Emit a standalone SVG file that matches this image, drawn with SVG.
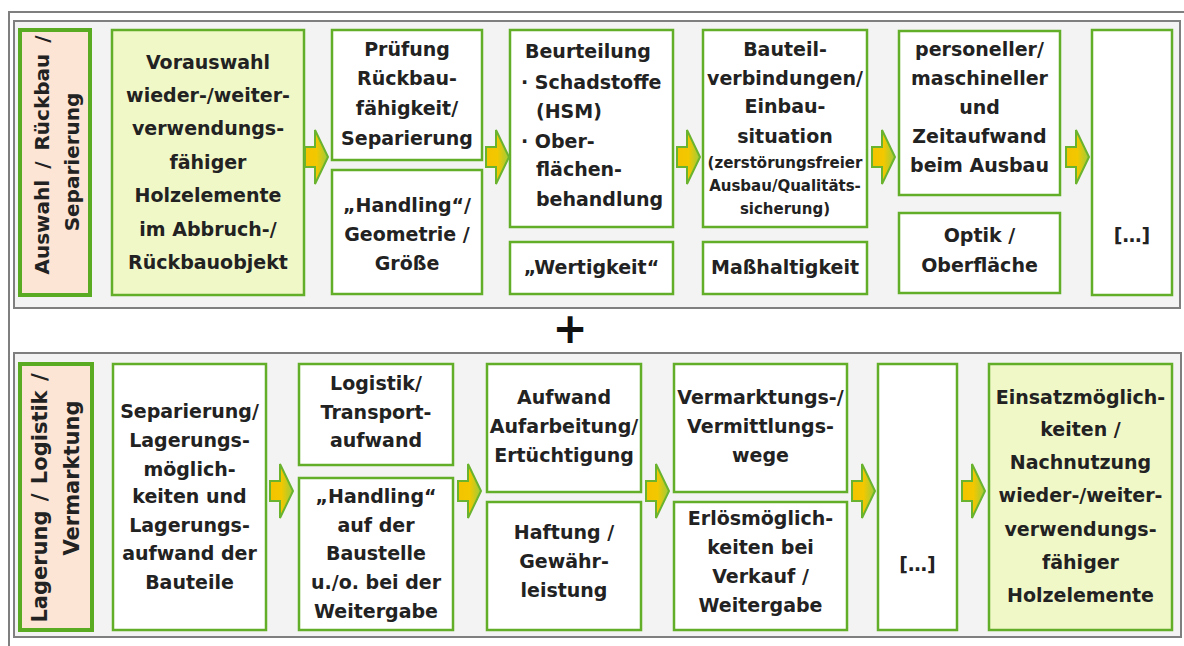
<svg xmlns="http://www.w3.org/2000/svg" width="1184" height="646" viewBox="0 0 1184 646">
<style>
.panel{fill:#f3f3f3;stroke:#7f7f7f;stroke-width:2}
.frame{fill:none;stroke:#7f7f7f;stroke-width:2}
.box{fill:#ffffff;stroke:#62ae28;stroke-width:2.5}
.hl{fill:#f1f8c8;stroke:#62ae28;stroke-width:2.5}
.lab{fill:#fce5d5;stroke:#5aab22;stroke-width:4}
text{font-family:"DejaVu Sans",Verdana,sans-serif;font-weight:bold;fill:#222222}
.t{font-size:19px;text-anchor:middle}
.l{font-size:19px;text-anchor:start}
.s{font-size:15px;text-anchor:middle}
.v{font-size:20px;text-anchor:middle}
.v2{font-size:21px;text-anchor:middle}
.arr{fill:url(#ag);stroke:#6ab32e;stroke-width:2;stroke-linejoin:miter}
</style>
<defs>
<linearGradient id="ag" x1="0" y1="0" x2="1" y2="0">
<stop offset="0" stop-color="#f3c300"/>
<stop offset="0.5" stop-color="#f3c800"/>
<stop offset="1" stop-color="#9ccc3c"/>
</linearGradient>
<path id="arrow" class="arr" d="M0,-10 L10,-10 L10,-27 L23,0 L10,27 L10,10 L0,10 Z"/>
</defs>
<rect x="0" y="0" width="1184" height="646" fill="#ffffff"/>
<path class="frame" d="M9,646 L9,12 L1184,12"/>
<g id="panel-top">
<rect class="panel" x="14" y="21" width="1166" height="287"/>
</g>
<g id="panel-bottom">
<rect class="panel" x="14" y="353" width="1167" height="284"/>
</g>
<g id="plus"><text x="570" y="343" style="font-size:42px;text-anchor:middle;fill:#111">+</text></g>

<g id="label-top">
<rect class="lab" x="20" y="30" width="70" height="265"/>
<text class="v" transform="translate(42,155) rotate(-90)" y="7" style="word-spacing:4px">Auswahl / Rückbau /</text>
<text class="v" transform="translate(72,162) rotate(-90)" y="7">Separierung</text>
</g>
<g id="n-vorauswahl">
<rect class="hl" x="112" y="30" width="192" height="265"/>
<text class="t" x="208" y="69">Vorauswahl</text>
<text class="t" x="208" y="102">wieder-/weiter-</text>
<text class="t" x="208" y="135">verwendungs-</text>
<text class="t" x="208" y="169">fähiger</text>
<text class="t" x="208" y="202">Holzelemente</text>
<text class="t" x="208" y="236">im Abbruch-/</text>
<text class="t" x="208" y="269">Rückbauobjekt</text>
</g>
<g id="n-pruefung">
<rect class="box" x="332" y="30" width="150" height="130"/>
<text class="t" x="407" y="56">Prüfung</text>
<text class="t" x="407" y="85">Rückbau-</text>
<text class="t" x="407" y="115">fähigkeit/</text>
<text class="t" x="407" y="145">Separierung</text>
</g>
<g id="n-handling-top">
<rect class="box" x="332" y="170" width="150" height="124"/>
<text class="t" x="407" y="212">„Handling“/</text>
<text class="t" x="407" y="241">Geometrie /</text>
<text class="t" x="407" y="270">Größe</text>
</g>
<g id="n-beurteilung">
<rect class="box" x="510" y="30" width="163" height="197"/>
<text class="l" x="525" y="58">Beurteilung</text>
<text class="l" x="521" y="89">· Schadstoffe</text>
<text class="l" x="536" y="118">(HSM)</text>
<text class="l" x="521" y="148">· Ober-</text>
<text class="l" x="536" y="176">flächen-</text>
<text class="l" x="536" y="206">behandlung</text>
</g>
<g id="n-wertigkeit">
<rect class="box" x="510" y="242" width="163" height="52"/>
<text class="t" x="591.5" y="274">„Wertigkeit“</text>
</g>
<g id="n-bauteil">
<rect class="box" x="703" y="30" width="164" height="197"/>
<text class="t" x="785" y="56">Bauteil-</text>
<text class="t" x="785" y="85">verbindungen/</text>
<text class="t" x="785" y="113">Einbau-</text>
<text class="t" x="785" y="143">situation</text>
<text class="s" x="785" y="168">(zerstörungsfreier</text>
<text class="s" x="785" y="191">Ausbau/Qualitäts-</text>
<text class="s" x="785" y="214">sicherung)</text>
</g>
<g id="n-massh">
<rect class="box" x="703" y="242" width="164" height="52"/>
<text class="t" x="785" y="274">Maßhaltigkeit</text>
</g>
<g id="n-personeller">
<rect class="box" x="899" y="31" width="161" height="164"/>
<text class="t" x="979.5" y="56">personeller/</text>
<text class="t" x="979.5" y="85">maschineller</text>
<text class="t" x="979.5" y="114">und</text>
<text class="t" x="979.5" y="143">Zeitaufwand</text>
<text class="t" x="979.5" y="172">beim Ausbau</text>
</g>
<g id="n-optik">
<rect class="box" x="899" y="213" width="161" height="80"/>
<text class="t" x="979.5" y="242">Optik /</text>
<text class="t" x="979.5" y="272">Oberfläche</text>
</g>
<g id="n-etc-top">
<rect class="box" x="1092" y="30" width="80" height="265"/>
<text class="t" x="1132" y="242">[…]</text>
</g>

<g id="label-bottom">
<rect class="lab" x="20" y="364" width="72" height="266"/>
<text class="v2" transform="translate(40,498) rotate(-90)" y="7" style="word-spacing:2px">Lagerung / Logistik /</text>
<text class="v2" transform="translate(72,478) rotate(-90)" y="7">Vermarktung</text>
</g>
<g id="n-separierung">
<rect class="box" x="113" y="364" width="153" height="266"/>
<text class="t" x="189.5" y="418">Separierung/</text>
<text class="t" x="189.5" y="447">Lagerungs-</text>
<text class="t" x="189.5" y="476">möglich-</text>
<text class="t" x="189.5" y="503">keiten und</text>
<text class="t" x="189.5" y="532">Lagerungs-</text>
<text class="t" x="189.5" y="560">aufwand der</text>
<text class="t" x="189.5" y="589">Bauteile</text>
</g>
<g id="n-logistik">
<rect class="box" x="299" y="364" width="154" height="101"/>
<text class="t" x="376" y="390">Logistik/</text>
<text class="t" x="376" y="419">Transport-</text>
<text class="t" x="376" y="447">aufwand</text>
</g>
<g id="n-handling-bottom">
<rect class="box" x="299" y="478" width="154" height="152"/>
<text class="t" x="376" y="503">„Handling“</text>
<text class="t" x="376" y="532">auf der</text>
<text class="t" x="376" y="560">Baustelle</text>
<text class="t" x="376" y="589">u./o. bei der</text>
<text class="t" x="376" y="618">Weitergabe</text>
</g>
<g id="n-aufwand">
<rect class="box" x="487" y="364" width="154" height="128"/>
<text class="t" x="564" y="404">Aufwand</text>
<text class="t" x="564" y="433">Aufarbeitung/</text>
<text class="t" x="564" y="462">Ertüchtigung</text>
</g>
<g id="n-haftung">
<rect class="box" x="487" y="502" width="154" height="128"/>
<text class="t" x="564" y="539">Haftung /</text>
<text class="t" x="564" y="568">Gewähr-</text>
<text class="t" x="564" y="597">leistung</text>
</g>
<g id="n-vermarktung">
<rect class="box" x="674" y="364" width="173" height="128"/>
<text class="t" x="760.5" y="404">Vermarktungs-/</text>
<text class="t" x="760.5" y="433">Vermittlungs-</text>
<text class="t" x="760.5" y="462">wege</text>
</g>
<g id="n-erloes">
<rect class="box" x="674" y="502" width="173" height="128"/>
<text class="t" x="760.5" y="525">Erlösmöglich-</text>
<text class="t" x="760.5" y="554">keiten bei</text>
<text class="t" x="760.5" y="583">Verkauf /</text>
<text class="t" x="760.5" y="612">Weitergabe</text>
</g>
<g id="n-etc-bottom">
<rect class="box" x="878" y="364" width="79" height="266"/>
<text class="t" x="917.5" y="571">[…]</text>
</g>
<g id="n-einsatz">
<rect class="hl" x="989" y="364" width="183" height="266"/>
<text class="t" x="1080.5" y="404">Einsatzmöglich-</text>
<text class="t" x="1080.5" y="436">keiten /</text>
<text class="t" x="1080.5" y="469">Nachnutzung</text>
<text class="t" x="1080.5" y="502">wieder-/weiter-</text>
<text class="t" x="1080.5" y="536">verwendungs-</text>
<text class="t" x="1080.5" y="569">fähiger</text>
<text class="t" x="1080.5" y="602">Holzelemente</text>
</g>

<g id="connectors">
<use href="#arrow" x="305" y="157"/>
<use href="#arrow" x="486" y="157"/>
<use href="#arrow" x="677" y="157"/>
<use href="#arrow" x="872" y="157"/>
<use href="#arrow" x="1066" y="157"/>
<use href="#arrow" x="270" y="491"/>
<use href="#arrow" x="458" y="491"/>
<use href="#arrow" x="646" y="491"/>
<use href="#arrow" x="852" y="491"/>
<use href="#arrow" x="962" y="491"/>
</g>
</svg>
